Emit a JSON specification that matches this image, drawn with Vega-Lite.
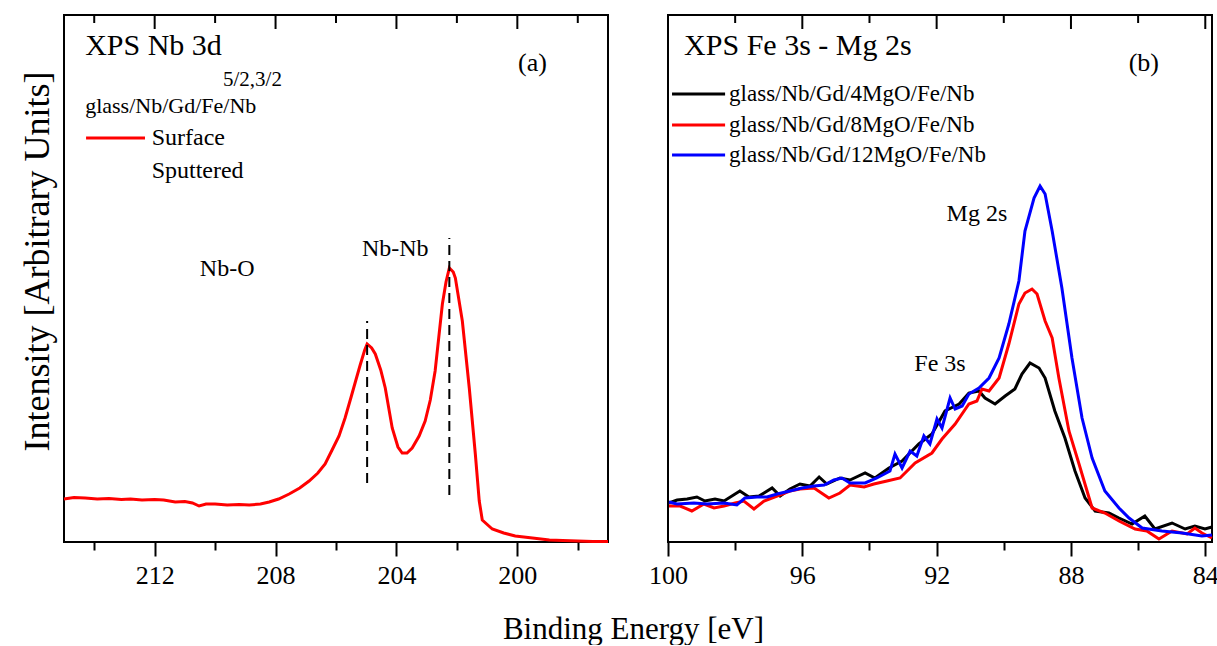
{
  "$schema": "https://vega.github.io/schema/vega-lite/v6.json",
  "padding": {"left": 17, "top": 13, "right": 5, "bottom": 0},
  "bounds": "flush",
  "spacing": 60,
  "background": "white",
  "config": {
    "font": "Liberation Serif",
    "view": {"stroke": "black", "strokeWidth": 2},
    "axis": {"grid": false, "domain": false, "tickColor": "black", "tickWidth": 2, "labelColor": "black", "titleColor": "black", "labelFont": "Liberation Serif", "titleFont": "Liberation Serif", "titleFontWeight": "normal", "labelFontSize": 26, "titleFontSize": 30, "labelFlush": false, "labelOverlap": false},
    "text": {"font": "Liberation Serif", "color": "black"}
  },
  "hconcat": [
    {
      "width": 544,
      "height": 527,
      "layer": [
        {
          "data": {"values": [
            {"e": 215.0, "i": 43}, {"e": 214.67, "i": 44.5}, {"e": 214.3, "i": 44}, {"e": 213.9, "i": 43}, {"e": 213.51, "i": 43.5}, {"e": 213.1, "i": 42.5}, {"e": 212.8, "i": 43}, {"e": 212.42, "i": 42}, {"e": 212.0, "i": 42.5}, {"e": 211.7, "i": 42}, {"e": 211.32, "i": 40}, {"e": 211.0, "i": 40.5}, {"e": 210.75, "i": 39}, {"e": 210.53, "i": 36}, {"e": 210.3, "i": 38}, {"e": 210.0, "i": 38}, {"e": 209.6, "i": 37}, {"e": 209.2, "i": 37.5}, {"e": 208.87, "i": 37}, {"e": 208.5, "i": 38}, {"e": 208.21, "i": 40}, {"e": 207.9, "i": 43}, {"e": 207.55, "i": 48}, {"e": 207.2, "i": 54}, {"e": 206.89, "i": 61}, {"e": 206.6, "i": 69}, {"e": 206.36, "i": 78}, {"e": 206.13, "i": 92}, {"e": 205.9, "i": 106}, {"e": 205.7, "i": 124}, {"e": 205.5, "i": 145}, {"e": 205.36, "i": 160}, {"e": 205.2, "i": 177}, {"e": 205.05, "i": 192}, {"e": 204.97, "i": 198}, {"e": 204.82, "i": 194}, {"e": 204.7, "i": 188}, {"e": 204.52, "i": 172}, {"e": 204.37, "i": 154}, {"e": 204.14, "i": 114}, {"e": 203.95, "i": 95}, {"e": 203.81, "i": 89}, {"e": 203.65, "i": 89}, {"e": 203.48, "i": 94}, {"e": 203.25, "i": 106}, {"e": 203.05, "i": 121}, {"e": 202.88, "i": 142}, {"e": 202.72, "i": 171}, {"e": 202.48, "i": 238}, {"e": 202.36, "i": 260}, {"e": 202.25, "i": 274}, {"e": 202.12, "i": 270}, {"e": 202.05, "i": 264}, {"e": 201.82, "i": 221}, {"e": 201.59, "i": 154}, {"e": 201.39, "i": 88}, {"e": 201.26, "i": 41}, {"e": 201.16, "i": 22}, {"e": 200.83, "i": 13}, {"e": 200.45, "i": 9}, {"e": 200.07, "i": 6}, {"e": 199.5, "i": 4}, {"e": 198.94, "i": 2}, {"e": 198.5, "i": 1.5}, {"e": 198.0, "i": 1}, {"e": 197.5, "i": 0.5}, {"e": 197.0, "i": 0.5}
          ]},
          "mark": {"type": "line", "color": "#ff0000", "strokeWidth": 3},
          "encoding": {
            "x": {"field": "e", "type": "quantitative", "scale": {"domain": [197, 215], "reverse": true, "nice": false, "zero": false},
              "axis": {"orient": "bottom", "values": [198, 200, 202, 204, 206, 208, 210, 212, 214], "labelExpr": "datum.value % 4 === 0 ? datum.label : ''", "tickSize": {"condition": {"test": "datum.value % 4 === 0", "value": 14}, "value": 8}, "labelPadding": 6, "title": "Binding Energy [eV]", "titleFontSize": 31, "titleX": 569, "titleY": 96, "titleAlign": "center", "titleBaseline": "alphabetic", "titleAngle": 0}},
            "y": {"field": "i", "type": "quantitative", "scale": {"domain": [0, 527], "nice": false, "zero": false},
              "axis": {"orient": "left", "title": "Intensity [Arbitrary Units]", "titleFontSize": 36, "ticks": false, "labels": false, "titleX": -27, "titleY": 246, "titleAngle": 270, "titleAlign": "center", "titleBaseline": "middle"}}
          }
        },
        {
          "data": {"values": [{"t": 200}, {"t": 204}, {"t": 208}, {"t": 212}]},
          "mark": {"type": "rule", "color": "black", "strokeWidth": 2},
          "encoding": {
            "x": {"field": "t", "type": "quantitative", "axis": null},
            "y": {"datum": 527, "type": "quantitative", "axis": null},
            "y2": {"datum": 513}
          }
        },
        {
          "data": {"values": [{"t": 198}, {"t": 202}, {"t": 206}, {"t": 210}, {"t": 214}]},
          "mark": {"type": "rule", "color": "black", "strokeWidth": 2},
          "encoding": {
            "x": {"field": "t", "type": "quantitative", "axis": null},
            "y": {"datum": 527, "type": "quantitative", "axis": null},
            "y2": {"datum": 519}
          }
        },
        {
          "data": {"values": [{"e": 204.97, "lo": 59, "hi": 221}, {"e": 202.25, "lo": 47, "hi": 304}]},
          "mark": {"type": "rule", "color": "black", "strokeWidth": 2, "strokeDash": [10, 6]},
          "encoding": {
            "x": {"field": "e", "type": "quantitative", "axis": null},
            "y": {"field": "lo", "type": "quantitative", "axis": null},
            "y2": {"field": "hi"}
          }
        },
        {
          "data": {"values": [{"a": 214.27, "b": 212.32, "i": 404}]},
          "mark": {"type": "rule", "color": "#ff0000", "strokeWidth": 3},
          "encoding": {
            "x": {"field": "a", "type": "quantitative", "axis": null},
            "x2": {"field": "b"},
            "y": {"field": "i", "type": "quantitative", "axis": null}
          }
        },
        {
          "data": {"values": [{"e": 214.3, "i": 496, "t": "XPS Nb 3d"}]},
          "mark": {"type": "text", "fontSize": 30, "align": "left", "baseline": "middle"},
          "encoding": {"x": {"field": "e", "type": "quantitative", "axis": null}, "y": {"field": "i", "type": "quantitative", "axis": null}, "text": {"field": "t"}}
        },
        {
          "data": {"values": [{"e": 209.74, "i": 462, "t": "5/2,3/2"}]},
          "mark": {"type": "text", "fontSize": 21, "align": "left", "baseline": "middle"},
          "encoding": {"x": {"field": "e", "type": "quantitative", "axis": null}, "y": {"field": "i", "type": "quantitative", "axis": null}, "text": {"field": "t"}}
        },
        {
          "data": {"values": [{"e": 199.5, "i": 479, "t": "(a)"}]},
          "mark": {"type": "text", "fontSize": 26, "align": "center", "baseline": "middle"},
          "encoding": {"x": {"field": "e", "type": "quantitative", "axis": null}, "y": {"field": "i", "type": "quantitative", "axis": null}, "text": {"field": "t"}}
        },
        {
          "data": {"values": [{"e": 214.3, "i": 436, "t": "glass/Nb/Gd/Fe/Nb"}]},
          "mark": {"type": "text", "fontSize": 22, "align": "left", "baseline": "middle"},
          "encoding": {"x": {"field": "e", "type": "quantitative", "axis": null}, "y": {"field": "i", "type": "quantitative", "axis": null}, "text": {"field": "t"}}
        },
        {
          "data": {"values": [{"e": 212.1, "i": 404, "t": "Surface"}, {"e": 212.1, "i": 371, "t": "Sputtered"}]},
          "mark": {"type": "text", "fontSize": 24, "align": "left", "baseline": "middle"},
          "encoding": {"x": {"field": "e", "type": "quantitative", "axis": null}, "y": {"field": "i", "type": "quantitative", "axis": null}, "text": {"field": "t"}}
        },
        {
          "data": {"values": [{"e": 209.6, "i": 273, "t": "Nb-O"}, {"e": 204.04, "i": 293, "t": "Nb-Nb"}]},
          "mark": {"type": "text", "fontSize": 24, "align": "center", "baseline": "middle"},
          "encoding": {"x": {"field": "e", "type": "quantitative", "axis": null}, "y": {"field": "i", "type": "quantitative", "axis": null}, "text": {"field": "t"}}
        }
      ],
      "resolve": {"axis": {"x": "independent", "y": "independent"}}
    },
    {
      "width": 544,
      "height": 527,
      "layer": [
        {
          "data": {"values": [
            {"s": "4MgO", "e": 99.97, "i": 39}, {"s": "4MgO", "e": 99.73, "i": 42}, {"s": "4MgO", "e": 99.43, "i": 43}, {"s": "4MgO", "e": 99.14, "i": 45}, {"s": "4MgO", "e": 98.9, "i": 41}, {"s": "4MgO", "e": 98.6, "i": 43}, {"s": "4MgO", "e": 98.33, "i": 41}, {"s": "4MgO", "e": 97.86, "i": 51}, {"s": "4MgO", "e": 97.59, "i": 45}, {"s": "4MgO", "e": 97.29, "i": 46}, {"s": "4MgO", "e": 96.9, "i": 54}, {"s": "4MgO", "e": 96.66, "i": 46}, {"s": "4MgO", "e": 96.37, "i": 53}, {"s": "4MgO", "e": 96.07, "i": 58}, {"s": "4MgO", "e": 95.77, "i": 56}, {"s": "4MgO", "e": 95.5, "i": 65}, {"s": "4MgO", "e": 95.27, "i": 58}, {"s": "4MgO", "e": 94.88, "i": 64}, {"s": "4MgO", "e": 94.58, "i": 62}, {"s": "4MgO", "e": 94.13, "i": 69}, {"s": "4MgO", "e": 93.84, "i": 64}, {"s": "4MgO", "e": 93.42, "i": 74}, {"s": "4MgO", "e": 93.03, "i": 81}, {"s": "4MgO", "e": 92.53, "i": 98}, {"s": "4MgO", "e": 92.14, "i": 108}, {"s": "4MgO", "e": 91.75, "i": 131}, {"s": "4MgO", "e": 91.33, "i": 138}, {"s": "4MgO", "e": 91.04, "i": 149}, {"s": "4MgO", "e": 90.74, "i": 151}, {"s": "4MgO", "e": 90.56, "i": 144}, {"s": "4MgO", "e": 90.26, "i": 138}, {"s": "4MgO", "e": 89.96, "i": 146}, {"s": "4MgO", "e": 89.67, "i": 153}, {"s": "4MgO", "e": 89.46, "i": 168}, {"s": "4MgO", "e": 89.22, "i": 179}, {"s": "4MgO", "e": 88.95, "i": 174}, {"s": "4MgO", "e": 88.77, "i": 164}, {"s": "4MgO", "e": 88.48, "i": 131}, {"s": "4MgO", "e": 88.18, "i": 104}, {"s": "4MgO", "e": 87.88, "i": 71}, {"s": "4MgO", "e": 87.58, "i": 44}, {"s": "4MgO", "e": 87.28, "i": 31}, {"s": "4MgO", "e": 86.87, "i": 29}, {"s": "4MgO", "e": 86.57, "i": 24}, {"s": "4MgO", "e": 86.18, "i": 18}, {"s": "4MgO", "e": 85.8, "i": 26}, {"s": "4MgO", "e": 85.5, "i": 13}, {"s": "4MgO", "e": 84.99, "i": 19}, {"s": "4MgO", "e": 84.6, "i": 13}, {"s": "4MgO", "e": 84.31, "i": 16}, {"s": "4MgO", "e": 84.01, "i": 13}, {"s": "4MgO", "e": 83.8, "i": 15},
            {"s": "8MgO", "e": 99.97, "i": 36}, {"s": "8MgO", "e": 99.64, "i": 36}, {"s": "8MgO", "e": 99.29, "i": 31}, {"s": "8MgO", "e": 98.93, "i": 38}, {"s": "8MgO", "e": 98.63, "i": 34}, {"s": "8MgO", "e": 98.33, "i": 36}, {"s": "8MgO", "e": 98.0, "i": 39}, {"s": "8MgO", "e": 97.74, "i": 41}, {"s": "8MgO", "e": 97.44, "i": 33}, {"s": "8MgO", "e": 97.14, "i": 41}, {"s": "8MgO", "e": 96.75, "i": 46}, {"s": "8MgO", "e": 96.37, "i": 51}, {"s": "8MgO", "e": 96.07, "i": 53}, {"s": "8MgO", "e": 95.65, "i": 54}, {"s": "8MgO", "e": 95.21, "i": 44}, {"s": "8MgO", "e": 94.88, "i": 49}, {"s": "8MgO", "e": 94.58, "i": 57}, {"s": "8MgO", "e": 94.16, "i": 55}, {"s": "8MgO", "e": 93.87, "i": 58}, {"s": "8MgO", "e": 93.48, "i": 61}, {"s": "8MgO", "e": 93.09, "i": 64}, {"s": "8MgO", "e": 92.64, "i": 79}, {"s": "8MgO", "e": 92.14, "i": 89}, {"s": "8MgO", "e": 91.84, "i": 103}, {"s": "8MgO", "e": 91.45, "i": 118}, {"s": "8MgO", "e": 91.04, "i": 138}, {"s": "8MgO", "e": 90.8, "i": 141}, {"s": "8MgO", "e": 90.65, "i": 153}, {"s": "8MgO", "e": 90.44, "i": 151}, {"s": "8MgO", "e": 90.14, "i": 164}, {"s": "8MgO", "e": 89.85, "i": 198}, {"s": "8MgO", "e": 89.55, "i": 238}, {"s": "8MgO", "e": 89.37, "i": 249}, {"s": "8MgO", "e": 89.16, "i": 253}, {"s": "8MgO", "e": 89.01, "i": 248}, {"s": "8MgO", "e": 88.77, "i": 221}, {"s": "8MgO", "e": 88.56, "i": 204}, {"s": "8MgO", "e": 88.36, "i": 164}, {"s": "8MgO", "e": 88.06, "i": 111}, {"s": "8MgO", "e": 87.76, "i": 78}, {"s": "8MgO", "e": 87.37, "i": 34}, {"s": "8MgO", "e": 86.99, "i": 29}, {"s": "8MgO", "e": 86.57, "i": 21}, {"s": "8MgO", "e": 86.09, "i": 13}, {"s": "8MgO", "e": 85.74, "i": 11}, {"s": "8MgO", "e": 85.38, "i": 3}, {"s": "8MgO", "e": 84.99, "i": 11}, {"s": "8MgO", "e": 84.54, "i": 8}, {"s": "8MgO", "e": 84.31, "i": 14}, {"s": "8MgO", "e": 84.1, "i": 9}, {"s": "8MgO", "e": 83.8, "i": 4},
            {"s": "12MgO", "e": 99.97, "i": 40}, {"s": "12MgO", "e": 99.73, "i": 38}, {"s": "12MgO", "e": 99.23, "i": 39}, {"s": "12MgO", "e": 98.84, "i": 38}, {"s": "12MgO", "e": 98.33, "i": 39}, {"s": "12MgO", "e": 97.95, "i": 37}, {"s": "12MgO", "e": 97.71, "i": 44}, {"s": "12MgO", "e": 97.35, "i": 45}, {"s": "12MgO", "e": 97.05, "i": 45}, {"s": "12MgO", "e": 96.75, "i": 48}, {"s": "12MgO", "e": 96.37, "i": 51}, {"s": "12MgO", "e": 96.01, "i": 54}, {"s": "12MgO", "e": 95.65, "i": 56}, {"s": "12MgO", "e": 95.35, "i": 57}, {"s": "12MgO", "e": 95.06, "i": 62}, {"s": "12MgO", "e": 94.82, "i": 64}, {"s": "12MgO", "e": 94.58, "i": 59}, {"s": "12MgO", "e": 94.13, "i": 59}, {"s": "12MgO", "e": 93.78, "i": 64}, {"s": "12MgO", "e": 93.39, "i": 71}, {"s": "12MgO", "e": 93.24, "i": 88}, {"s": "12MgO", "e": 93.03, "i": 74}, {"s": "12MgO", "e": 92.79, "i": 91}, {"s": "12MgO", "e": 92.59, "i": 86}, {"s": "12MgO", "e": 92.38, "i": 106}, {"s": "12MgO", "e": 92.2, "i": 98}, {"s": "12MgO", "e": 91.99, "i": 123}, {"s": "12MgO", "e": 91.84, "i": 114}, {"s": "12MgO", "e": 91.6, "i": 144}, {"s": "12MgO", "e": 91.45, "i": 133}, {"s": "12MgO", "e": 91.24, "i": 136}, {"s": "12MgO", "e": 91.04, "i": 148}, {"s": "12MgO", "e": 90.74, "i": 154}, {"s": "12MgO", "e": 90.44, "i": 164}, {"s": "12MgO", "e": 90.14, "i": 184}, {"s": "12MgO", "e": 89.85, "i": 218}, {"s": "12MgO", "e": 89.55, "i": 261}, {"s": "12MgO", "e": 89.37, "i": 311}, {"s": "12MgO", "e": 89.1, "i": 344}, {"s": "12MgO", "e": 88.92, "i": 356}, {"s": "12MgO", "e": 88.77, "i": 348}, {"s": "12MgO", "e": 88.56, "i": 311}, {"s": "12MgO", "e": 88.27, "i": 254}, {"s": "12MgO", "e": 87.97, "i": 184}, {"s": "12MgO", "e": 87.67, "i": 124}, {"s": "12MgO", "e": 87.37, "i": 84}, {"s": "12MgO", "e": 86.99, "i": 51}, {"s": "12MgO", "e": 86.57, "i": 34}, {"s": "12MgO", "e": 86.27, "i": 24}, {"s": "12MgO", "e": 85.88, "i": 14}, {"s": "12MgO", "e": 85.29, "i": 11}, {"s": "12MgO", "e": 84.69, "i": 9}, {"s": "12MgO", "e": 84.1, "i": 6}, {"s": "12MgO", "e": 83.8, "i": 7}
          ]},
          "mark": {"type": "line", "strokeWidth": 3},
          "encoding": {
            "x": {"field": "e", "type": "quantitative", "scale": {"domain": [83.8, 100], "reverse": true, "nice": false, "zero": false},
              "axis": {"orient": "bottom", "values": [84, 86, 88, 90, 92, 94, 96, 98, 100], "labelExpr": "datum.value % 4 === 0 ? datum.label : ''", "tickSize": {"condition": {"test": "datum.value % 4 === 0", "value": 14}, "value": 8}, "labelPadding": 6, "title": null}},
            "y": {"field": "i", "type": "quantitative", "scale": {"domain": [0, 527], "nice": false, "zero": false}, "axis": null},
            "color": {"field": "s", "type": "nominal", "scale": {"domain": ["4MgO", "8MgO", "12MgO"], "range": ["#000000", "#ff0000", "#0000ff"]}, "legend": null},
            "order": {"field": "e", "type": "quantitative", "sort": "descending"}
          }
        },
        {
          "data": {"values": [{"t": 84}, {"t": 88}, {"t": 92}, {"t": 96}, {"t": 100}]},
          "mark": {"type": "rule", "color": "black", "strokeWidth": 2},
          "encoding": {
            "x": {"field": "t", "type": "quantitative", "axis": null},
            "y": {"datum": 527, "type": "quantitative", "axis": null},
            "y2": {"datum": 513}
          }
        },
        {
          "data": {"values": [{"t": 86}, {"t": 90}, {"t": 94}, {"t": 98}]},
          "mark": {"type": "rule", "color": "black", "strokeWidth": 2},
          "encoding": {
            "x": {"field": "t", "type": "quantitative", "axis": null},
            "y": {"datum": 527, "type": "quantitative", "axis": null},
            "y2": {"datum": 519}
          }
        },
        {
          "data": {"values": [
            {"s": "4MgO", "a": 99.88, "b": 98.3, "i": 448, "t": "glass/Nb/Gd/4MgO/Fe/Nb"},
            {"s": "8MgO", "a": 99.88, "b": 98.3, "i": 417, "t": "glass/Nb/Gd/8MgO/Fe/Nb"},
            {"s": "12MgO", "a": 99.88, "b": 98.3, "i": 387, "t": "glass/Nb/Gd/12MgO/Fe/Nb"}
          ]},
          "layer": [
            {
              "mark": {"type": "rule", "strokeWidth": 3},
              "encoding": {
                "x": {"field": "a", "type": "quantitative", "axis": null},
                "x2": {"field": "b"},
                "y": {"field": "i", "type": "quantitative", "axis": null},
                "color": {"field": "s", "type": "nominal", "legend": null}
              }
            },
            {
              "mark": {"type": "text", "fontSize": 23, "align": "left", "baseline": "middle", "dx": 4},
              "encoding": {
                "x": {"field": "b", "type": "quantitative", "axis": null},
                "y": {"field": "i", "type": "quantitative", "axis": null},
                "text": {"field": "t"}
              }
            }
          ]
        },
        {
          "data": {"values": [{"e": 99.52, "i": 496, "t": "XPS Fe 3s - Mg 2s"}]},
          "mark": {"type": "text", "fontSize": 30, "align": "left", "baseline": "middle"},
          "encoding": {"x": {"field": "e", "type": "quantitative", "axis": null}, "y": {"field": "i", "type": "quantitative", "axis": null}, "text": {"field": "t"}}
        },
        {
          "data": {"values": [{"e": 85.83, "i": 479, "t": "(b)"}]},
          "mark": {"type": "text", "fontSize": 26, "align": "center", "baseline": "middle"},
          "encoding": {"x": {"field": "e", "type": "quantitative", "axis": null}, "y": {"field": "i", "type": "quantitative", "axis": null}, "text": {"field": "t"}}
        },
        {
          "data": {"values": [{"e": 90.8, "i": 328, "t": "Mg 2s"}, {"e": 91.9, "i": 178, "t": "Fe 3s"}]},
          "mark": {"type": "text", "fontSize": 24, "align": "center", "baseline": "middle"},
          "encoding": {"x": {"field": "e", "type": "quantitative", "axis": null}, "y": {"field": "i", "type": "quantitative", "axis": null}, "text": {"field": "t"}}
        }
      ],
      "resolve": {"axis": {"x": "independent", "y": "independent"}}
    }
  ]
}
